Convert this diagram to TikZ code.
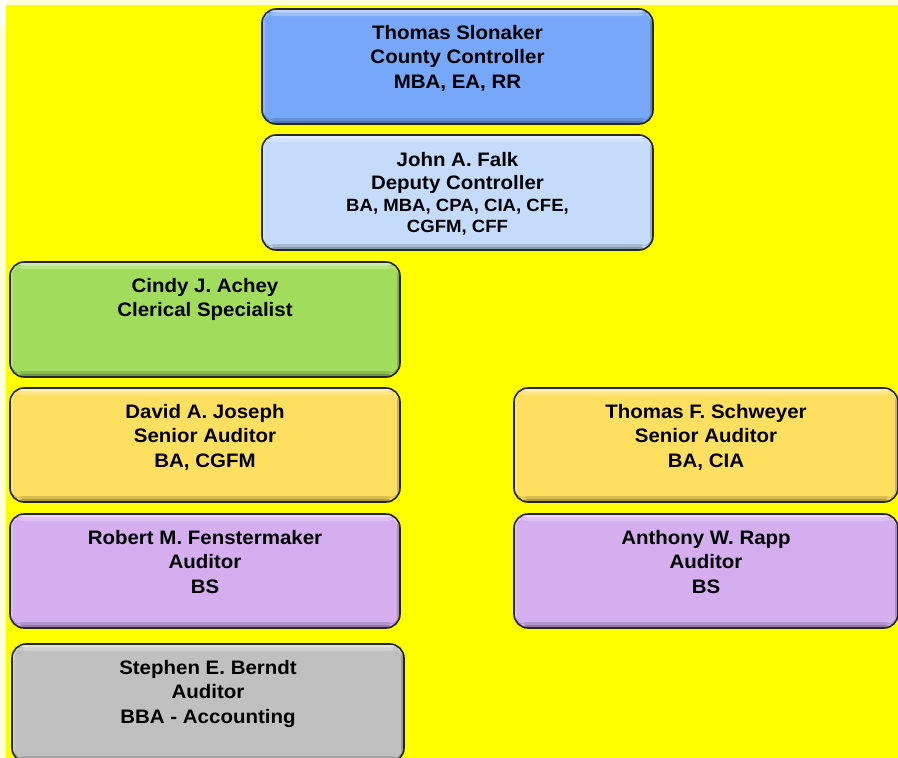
\documentclass[tikz,border=0pt]{standalone}
\usepackage{fontspec}
\setmainfont[FakeStretch=1.05]{Liberation Sans}
\definecolor{bgyel}{HTML}{FFFF00}
\definecolor{pale}{HTML}{FFFFDC}
\definecolor{cblue}{HTML}{77A7F8}
\definecolor{clblue}{HTML}{C4DBFB}
\definecolor{cgreen}{HTML}{A2DC5C}
\definecolor{cgold}{HTML}{FFDF60}
\definecolor{cpurple}{HTML}{D5AEEF}
\definecolor{cgray}{HTML}{C0C0C0}
\tikzset{
  orgbox/.style={draw=black!85, line width=1.6pt, rounded corners=14pt,
    inner sep=0pt, outer sep=0pt, anchor=north west,
    font=\bfseries\fontsize{19.5}{24.5}\selectfont,
    path picture={
      \fill[white,opacity=.5] (path picture bounding box.north west) rectangle ([yshift=-3.5pt]path picture bounding box.north east);
      \fill[white,opacity=.25] ([yshift=-3.5pt]path picture bounding box.north west) rectangle ([yshift=-7pt]path picture bounding box.north east);
      \fill[black,opacity=.3] (path picture bounding box.south west) rectangle ([yshift=3pt]path picture bounding box.south east);
      \fill[black,opacity=.15] ([yshift=3pt]path picture bounding box.south west) rectangle ([yshift=6pt]path picture bounding box.south east);
      \fill[black,opacity=.2] (path picture bounding box.north east) rectangle ([xshift=-3pt]path picture bounding box.south east);
      \fill[white,opacity=.2] (path picture bounding box.north west) rectangle ([xshift=3pt]path picture bounding box.south west);
    }},
}
\newcommand\orgnode[7]{%
  \node[orgbox, fill=#6] (#1) at (#2,#3)
    {\parbox[c][#5pt][t]{#4pt}{\centering\vspace*{16pt}#7\par}};}
\begin{document}
\begin{tikzpicture}[x=1pt,y=-1pt]
\useasboundingbox (0,0) rectangle (898,758);
\fill[pale] (0,0) rectangle (898,758);
\fill[white] (0,0) rectangle (7,26);
\fill[bgyel] (6,5) rectangle (898,758);

\orgnode{ts}{262}{9}{391}{115}{cblue}{Thomas Slonaker\\County Controller\\MBA, EA, RR}
\orgnode{jf}{262}{135}{391}{115}{clblue}{\fontsize{19.5}{23}\selectfont\vspace*{1.5pt}John A. Falk\\Deputy Controller\par
  \fontsize{17.7}{21.5}\selectfont BA, MBA, CPA, CIA, CFE,\\CGFM, CFF}
\orgnode{ca}{10}{262}{390}{115}{cgreen}{Cindy J. Achey\\Clerical Specialist}
\orgnode{dj}{10}{388}{390}{114}{cgold}{David A. Joseph\\Senior Auditor\\BA, CGFM}
\orgnode{tf}{514}{388}{384}{114}{cgold}{Thomas F. Schweyer\\Senior Auditor\\BA, CIA}
\orgnode{rf}{10}{514}{390}{114}{cpurple}{Robert M. Fenstermaker\\Auditor\\BS}
\orgnode{ar}{514}{514}{384}{114}{cpurple}{Anthony W. Rapp\\Auditor\\BS}
\orgnode{sb}{12}{644}{392}{118}{cgray}{Stephen E. Berndt\\Auditor\\BBA - Accounting}
\end{tikzpicture}
\end{document}
